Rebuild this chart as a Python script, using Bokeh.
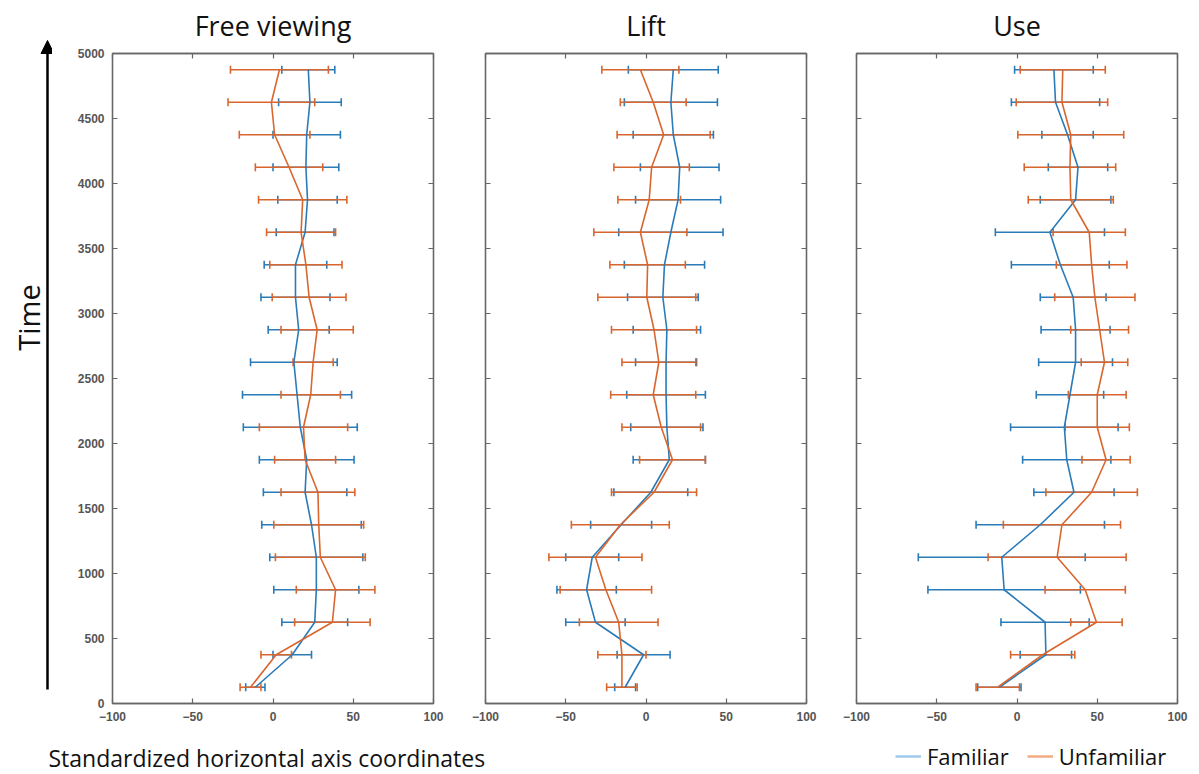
import numpy as np
from bokeh.plotting import figure
from bokeh.models import (Range1d, FixedTicker, LinearAxis, Whisker, TeeHead,
                          ColumnDataSource, Arrow, NormalHead, Legend, LegendItem,
                          CustomJSTickFormatter)
from bokeh.layouts import row, column
from bokeh.embed import file_html
from bokeh.resources import INLINE
from bokeh.core.properties import value

# ---------------- data ----------------
time_ms = [125, 375, 625, 875, 1125, 1375, 1625, 1875, 2125, 2375,
           2625, 2875, 3125, 3375, 3625, 3875, 4125, 4375, 4625, 4875]

panel_titles = ["Free viewing", "Lift", "Use"]
series_names = ["Familiar", "Unfamiliar"]

fv_fam = [-11, 12, 26, 27, 27, 24, 20, 21, 17, 15, 13, 16, 14, 14, 20, 21.5, 20.5, 21, 23, 22]
fv_fam_err = [6, 12, 20.5, 26.5, 29, 31, 26, 29.5, 35.5, 34, 27, 19, 21.5, 19.5, 18, 18.5, 20.5, 21, 19.5, 16.5]
fv_unf = [-14, 2, 37, 39, 29.5, 28.5, 28, 20, 19, 23.5, 25, 27.5, 22.5, 20.5, 17.5, 18.5, 10, 1, -1, 4]
fv_unf_err = [6.5, 9.5, 23.5, 24.5, 28, 28, 23, 19, 27.5, 18.5, 12.5, 22.5, 23, 22.5, 21.5, 27.5, 21, 22, 27, 30.5]

lift_fam = [-13, -1.5, -31.5, -37, -33.5, -15.5, 3, 14.5, 13, 12.5, 12.5, 13, 10.5, 11.5, 15.5, 20, 21, 17, 15.5, 17]
lift_fam_err = [6.5, 16.5, 18.5, 18.5, 16.5, 19, 23, 22.5, 22.5, 24.5, 19, 21, 22, 25, 32.5, 26.5, 24.5, 25, 29, 28]
lift_unf = [-15, -15, -17, -25, -31.5, -16, 5, 16.5, 9.5, 4.5, 8, 5, 0.5, 1, -3.5, 2, 3.5, 11, 4.5, -3.5]
lift_unf_err = [9.5, 15, 24.5, 28.5, 29, 30.5, 26.5, 20.5, 24.5, 26.5, 23, 26.5, 30.5, 23.5, 29, 19.5, 23.5, 29, 20.5, 24]

use_fam = [-11, 18, 17.5, -8, -9.5, 14.5, 35.5, 31, 29.5, 33, 36.5, 36.5, 35, 27, 20.5, 36.5, 38, 31.5, 24, 23]
use_fam_err = [13.5, 16, 27.5, 47.5, 52, 40, 25, 27.5, 33.5, 21, 23, 21.5, 20.5, 30.5, 34, 22, 18.5, 16, 27.5, 24.5]
use_unf = [-12, 16, 49.5, 42.5, 25, 28, 46.5, 55.5, 50, 50, 54.5, 51.5, 48.5, 46.5, 45, 33.5, 33, 33.5, 28, 28.5]
use_unf_err = [13.5, 20, 16, 25, 43, 36.5, 28.5, 15, 20, 18, 14.5, 18, 25, 22, 22.5, 26.5, 28.5, 33, 28.5, 26.5]

x_ticks = [-100, -50, 0, 50, 100]
y_ticks = [0, 500, 1000, 1500, 2000, 2500, 3000, 3500, 4000, 4500, 5000]

# ---------------- style / layout ----------------
BLUE = "#2a7bb8"
ORANGE = "#d9662e"
BLUE_LIGHT = "#9fcaed"
ORANGE_LIGHT = "#f3ab82"
AX = "#666666"
LBL = "#555555"
FONT = "Open Sans"
FRAME_W, FRAME_H = 321, 650
TITLE_H = 45                 # strip holding the panel titles
TOP, BOTTOM = 8, 27          # panel borders below the title strip
LEFT_W = 52
BL1, BR1, BL2, BR2, BL3, BR3 = 112 - LEFT_W, 26, 26, 25, 25, 12
PANELS_W = BL1 + BR1 + BL2 + BR2 + BL3 + BR3 + 3 * FRAME_W
TOTAL_W = LEFT_W + PANELS_W
ROW_H = TITLE_H + TOP + FRAME_H + BOTTOM
STRIP_H = 44

blank = CustomJSTickFormatter(code="return ''")


def style_axis(ax, show_labels):
    ax.axis_line_color = AX
    ax.axis_line_width = 1.3
    ax.major_tick_line_color = AX
    ax.major_tick_line_width = 1.2
    ax.major_tick_in = 5
    ax.major_tick_out = 0
    ax.minor_tick_in = 0
    ax.minor_tick_out = 0
    ax.major_label_text_font = "Liberation Sans"
    ax.major_label_text_font_size = "12px"
    ax.major_label_text_font_style = "bold"
    ax.major_label_text_color = LBL
    if not show_labels:
        ax.formatter = blank
        ax.major_label_standoff = 0
        ax.major_label_text_font_size = "1px"


def panel(fam, fam_err, unf, unf_err, show_y, bl, br):
    p = figure(frame_width=FRAME_W, frame_height=FRAME_H,
               min_border_left=bl, min_border_right=br,
               min_border_top=TOP, min_border_bottom=BOTTOM,
               x_range=Range1d(-100, 100), y_range=Range1d(0, 5000),
               output_backend="svg", toolbar_location=None)
    p.xgrid.visible = False
    p.ygrid.visible = False
    p.outline_line_color = AX
    p.outline_line_width = 1.3

    xt = FixedTicker(ticks=x_ticks, minor_ticks=[])
    yt = FixedTicker(ticks=y_ticks, minor_ticks=[])
    p.xaxis[0].ticker = xt
    p.yaxis[0].ticker = yt
    style_axis(p.xaxis[0], True)
    p.xaxis[0].major_label_standoff = 8
    style_axis(p.yaxis[0], show_y)
    if show_y:
        p.yaxis[0].major_label_standoff = 8

    top = LinearAxis(ticker=xt)
    style_axis(top, False)
    p.add_layout(top, "above")
    right = LinearAxis(ticker=yt)
    style_axis(right, False)
    p.add_layout(right, "right")

    for mean, err, col in ((fam, fam_err, BLUE), (unf, unf_err, ORANGE)):
        m = np.array(mean, dtype=float)
        e = np.array(err, dtype=float)
        src = ColumnDataSource(dict(t=time_ms, m=m, lo=m - e, hi=m + e))
        p.line("m", "t", source=src, line_color=col, line_width=1.6)
        w = Whisker(source=src, base="t", lower="lo", upper="hi", dimension="width",
                    line_color=col, line_width=1.3,
                    upper_head=TeeHead(size=8, line_color=col, line_width=1.6),
                    lower_head=TeeHead(size=8, line_color=col, line_width=1.6))
        p.add_layout(w)
    return p


p1 = panel(fv_fam, fv_fam_err, fv_unf, fv_unf_err, True, BL1, BR1)
p2 = panel(lift_fam, lift_fam_err, lift_unf, lift_unf_err, False, BL2, BR2)
p3 = panel(use_fam, use_fam_err, use_unf, use_unf_err, False, BL3, BR3)


def strip(w, h, x0, y0):
    f = figure(frame_width=w, frame_height=h, min_border=0,
               x_range=Range1d(x0, x0 + w), y_range=Range1d(y0 + h, y0),
               x_axis_type=None, y_axis_type=None, output_backend="svg",
               toolbar_location=None)
    f.xgrid.visible = False
    f.ygrid.visible = False
    f.outline_line_color = None
    return f


# title strip above the panels (page pixel coordinates)
ts = strip(PANELS_W, TITLE_H, LEFT_W, 0)
frame_left = [LEFT_W + BL1,
              LEFT_W + BL1 + FRAME_W + BR1 + BL2,
              LEFT_W + BL1 + FRAME_W + BR1 + BL2 + FRAME_W + BR2 + BL3]
ts.text(x=[fl + FRAME_W / 2 for fl in frame_left], y=[25, 25, 25], text=panel_titles,
        text_align="center", text_baseline="middle", text_font=value(FONT),
        text_font_size="27px", text_color="#111111")

# left strip with the "Time" arrow
lf = strip(LEFT_W, ROW_H, 0, 0)
lf.add_layout(Arrow(end=NormalHead(size=13, fill_color="black", line_color="black"),
                    x_start=47, y_start=689, x_end=47, y_end=40,
                    line_color="black", line_width=2.5))
lf.text(x=[28], y=[317], text=["Time"], angle=np.pi / 2, text_align="center",
        text_baseline="middle", text_font=value(FONT), text_font_size="29px",
        text_color="#111111")

# bottom strip: caption and legend
bf = strip(TOTAL_W, STRIP_H, 0, ROW_H)
bf.text(x=[48], y=[757], text=["Standardized horizontal axis coordinates"],
        text_align="left", text_baseline="middle", text_font=value(FONT),
        text_font_size="23px", text_color="#111111")
nan_src = ColumnDataSource(dict(x=[np.nan, np.nan], y=[np.nan, np.nan]))
r1 = bf.line("x", "y", source=nan_src, line_color=BLUE_LIGHT, line_width=2.5)
r2 = bf.line("x", "y", source=nan_src, line_color=ORANGE_LIGHT, line_width=2.5)
legend = Legend(items=[LegendItem(label=series_names[0], renderers=[r1]),
                       LegendItem(label=series_names[1], renderers=[r2])],
                orientation="horizontal", location=(895, 3),
                glyph_width=26, glyph_height=20, label_standoff=6, spacing=18,
                padding=0, margin=0, border_line_alpha=0, background_fill_alpha=0,
                label_text_font=FONT, label_text_font_size="22px",
                label_text_color="#111111", label_height=20)
bf.add_layout(legend)

layout = column(row(column(lf), column(ts, row(p1, p2, p3))), bf)
open("out.html", "w").write(file_html(layout, INLINE))
